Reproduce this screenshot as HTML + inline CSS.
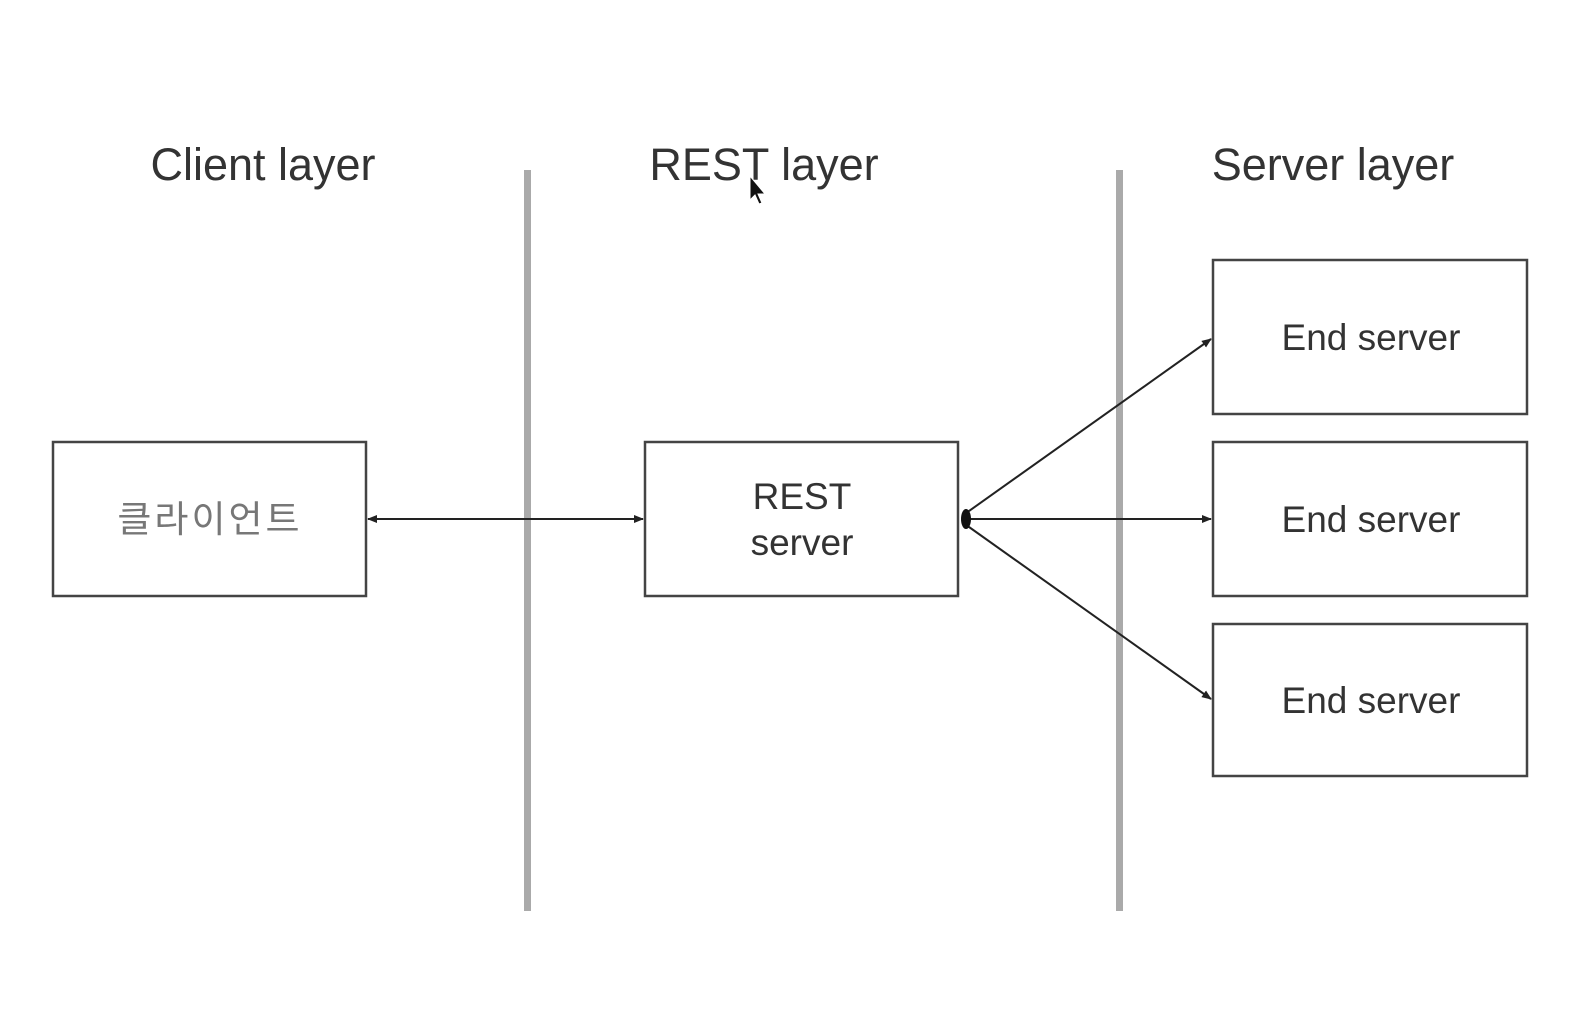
<!DOCTYPE html>
<html><head><meta charset="utf-8"><style>
html,body{margin:0;padding:0;background:#fff;}
svg{display:block;}
text{font-family:"Liberation Sans","Noto Sans CJK KR",sans-serif;fill:#333;}
</style></head><body>
<svg width="1584" height="1012" viewBox="0 0 1584 1012" xmlns="http://www.w3.org/2000/svg">
<defs>
<marker id="a" markerWidth="10" markerHeight="8" refX="9" refY="4" orient="auto" markerUnits="userSpaceOnUse">
<path d="M0,0 L10,4 L0,8 Z" fill="#222"/></marker>
<marker id="b" markerWidth="10" markerHeight="8" refX="1" refY="4" orient="auto" markerUnits="userSpaceOnUse">
<path d="M10,0 L0,4 L10,8 Z" fill="#222"/></marker>
</defs>
<text x="263" y="180" font-size="45" text-anchor="middle">Client layer</text>
<text x="764" y="180" font-size="45" text-anchor="middle">REST layer</text>
<text x="1333" y="180" font-size="45" text-anchor="middle">Server layer</text>
<rect x="524" y="170" width="7" height="741" fill="#aaa"/>
<rect x="1116" y="170" width="7" height="741" fill="#aaa"/>
<g fill="none" stroke="#444" stroke-width="2.5">
<rect x="53" y="442" width="313" height="154"/>
<rect x="645" y="442" width="313" height="154"/>
<rect x="1213" y="260" width="314" height="154"/>
<rect x="1213" y="442" width="314" height="154"/>
<rect x="1213" y="624" width="314" height="152"/>
</g>
<g stroke="#222" stroke-width="2">
<line x1="368" y1="519" x2="643" y2="519" marker-start="url(#b)" marker-end="url(#a)"/>
<line x1="962" y1="519" x2="1211" y2="519" marker-end="url(#a)"/>
<line x1="962" y1="516" x2="1211" y2="339" marker-end="url(#a)"/>
<line x1="962" y1="522" x2="1211" y2="699" marker-end="url(#a)"/>
</g>
<ellipse cx="966" cy="519" rx="5" ry="10" fill="#111"/>
<text x="210" y="532" font-size="37" text-anchor="middle" letter-spacing="3" style="fill:#777">클라이언트</text>
<text x="802" y="509" font-size="37" text-anchor="middle">REST</text>
<text x="802" y="555" font-size="37" text-anchor="middle">server</text>
<text x="1371" y="350" font-size="37" text-anchor="middle">End server</text>
<text x="1371" y="532" font-size="37" text-anchor="middle">End server</text>
<text x="1371" y="713" font-size="37" text-anchor="middle">End server</text>
<path d="M750,176 L750,200 L755,195 L759,204 L762,203 L758,194 L765,194 Z" fill="#111" stroke="#fff" stroke-width="1"/>
</svg>
</body></html>
